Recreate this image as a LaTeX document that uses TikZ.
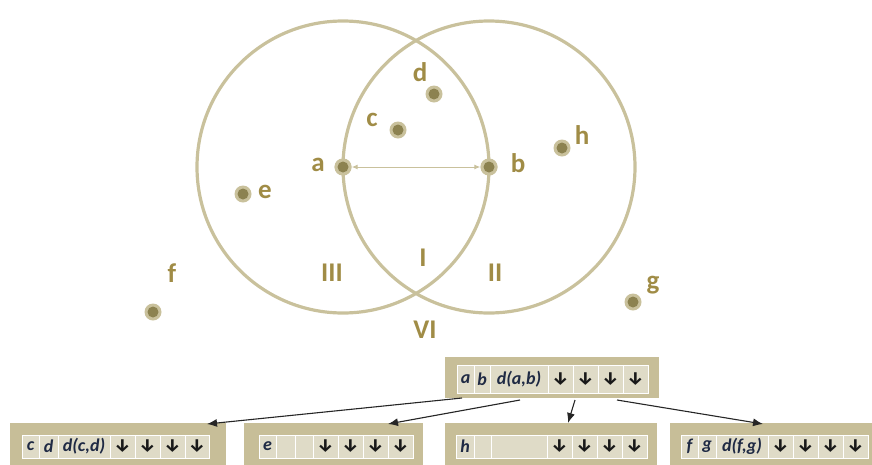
\documentclass[tikz,border=0pt]{standalone}
\usepackage{fontspec}
\setmainfont{Carlito}
\newfontfamily\arrowfont{Fira Sans}
\usetikzlibrary{arrows.meta}
\definecolor{ringc}{HTML}{C9C19C}
\definecolor{dotin}{HTML}{8C8250}
\definecolor{labc}{HTML}{A08C46}
\definecolor{boxc}{HTML}{C7BE98}
\definecolor{cellc}{HTML}{DFDBC7}
\definecolor{txtc}{HTML}{1F2A44}
\tikzset{
  ring/.style={draw=ringc, line width=3.2pt},
  dotn/.style={circle, fill=ringc, minimum size=17pt, inner sep=0pt,
     path picture={\fill[dotin] (path picture bounding box.center) circle[radius=5.5pt];}},
  lab/.style={text=labc, font=\fontsize{27}{27}\selectfont\bfseries, inner sep=0pt},
  outerbox/.style={fill=boxc, draw=none},
  cellbox/.style={fill=cellc, draw=white, line width=1pt, inner sep=0pt, text=txtc,
     font=\fontsize{18}{18}\selectfont\bfseries\itshape},
  conn/.style={draw=black!85, line width=1.1pt, -{Latex[length=10pt,width=8pt]}},
  dist/.style={draw=ringc, line width=1pt, {Latex[length=6pt,width=5pt]}-{Latex[length=6pt,width=5pt]}}
}
\newcommand\tcell[6]{\node[cellbox, minimum width={(#3-#2)*1pt}, minimum height={(#5-#4)*1pt}] (#1) at ({(#2+#3)/2},{(#4+#5)/2}) {#6};}
\newcommand\arr{{\arrowfont\fontsize{18}{18}\selectfont\bfseries\upshape\color{black!90}↓}}
\begin{document}
\begin{tikzpicture}[x=1pt,y=-1pt]
\useasboundingbox (0,0) rectangle (872,464);
\clip (0,0) rectangle (872,464);
% points
\node[dotn] (a) at (343,167) {};
\node[dotn] (b) at (489,167) {};
\node[dotn] (c) at (398,130) {};
\node[dotn] (d) at (434,94) {};
\node[dotn] (e) at (243,194) {};
\node[dotn] (h) at (562,148) {};
\node[dotn] (f) at (153,312) {};
\node[dotn] (g) at (633,302) {};
% circles
\draw[ring] (a.center) circle[radius=146];
\draw[ring] (b.center) circle[radius=146];
\node[dotn] at (a) {};
\node[dotn] at (b) {};
\draw[dist] (a) -- (b);
% point labels
\node[lab] (la) at (318,165) {a};
\node[lab] (lb) at (518,163) {b};
\node[lab] (lc) at (372,120) {c};
\node[lab] (ld) at (420,72) {d};
\node[lab] (le) at (265,192) {e};
\node[lab] (lh) at (582,135) {h};
\node[lab] (lf) at (172,273) {f};
\node[lab] (lg) at (653,285) {g};
% region labels
\node[lab] (r3) at (332,273) {III};
\node[lab] (r1) at (423,258) {I};
\node[lab] (r2) at (495,273) {II};
\node[lab] (r6) at (425,330) {VI};
% top box
\node[outerbox, minimum width=214pt, minimum height=41pt, inner sep=0pt] (tb) at (552,377.5) {};
\tcell{t1}{457}{474}{365}{393}{a}
\tcell{t2}{474}{490}{365}{393}{b}
\tcell{t3}{490}{548}{365}{393}{d(a,b)}
\tcell{t4}{548}{573}{365}{393}{\arr}
\tcell{t5}{573}{598}{365}{393}{\arr}
\tcell{t6}{598}{623}{365}{393}{\arr}
\tcell{t7}{623}{648}{365}{393}{\arr}
% bottom boxes
\node[outerbox, minimum width=216pt, minimum height=46pt, inner sep=0pt] (bb1) at (118,446) {};
\tcell{p1}{22}{39}{435}{458}{c}
\tcell{p2}{39}{58}{435}{458}{d}
\tcell{p3}{58}{110}{435}{458}{d(c,d)}
\tcell{p4}{110}{135}{435}{458}{\arr}
\tcell{p5}{135}{160}{435}{458}{\arr}
\tcell{p6}{160}{185}{435}{458}{\arr}
\tcell{p7}{185}{209}{435}{458}{\arr}
\node[outerbox, minimum width=179pt, minimum height=46pt, inner sep=0pt] (bb2) at (333.5,446) {};
\tcell{q1}{259}{276}{435}{458}{e}
\tcell{q2}{276}{295}{435}{458}{}
\tcell{q3}{295}{313}{435}{458}{}
\tcell{q4}{313}{338}{435}{458}{\arr}
\tcell{q5}{338}{363}{435}{458}{\arr}
\tcell{q6}{363}{388}{435}{458}{\arr}
\tcell{q7}{388}{413}{435}{458}{\arr}
\node[outerbox, minimum width=212pt, minimum height=46pt, inner sep=0pt] (bb3) at (551,446) {};
\tcell{u1}{456}{474}{435}{458}{h}
\tcell{u2}{474}{491}{435}{458}{}
\tcell{u3}{491}{547}{435}{458}{}
\tcell{u4}{547}{572}{435}{458}{\arr}
\tcell{u5}{572}{597}{435}{458}{\arr}
\tcell{u6}{597}{622}{435}{458}{\arr}
\tcell{u7}{622}{647}{435}{458}{\arr}
\node[outerbox, minimum width=206pt, minimum height=46pt, inner sep=0pt] (bb4) at (773,446) {};
\tcell{v1}{681}{698}{435}{458}{f}
\tcell{v2}{698}{716}{435}{458}{g}
\tcell{v3}{716}{768}{435}{458}{d(f,g)}
\tcell{v4}{768}{793}{435}{458}{\arr}
\tcell{v5}{793}{818}{435}{458}{\arr}
\tcell{v6}{818}{843}{435}{458}{\arr}
\tcell{v7}{843}{868}{435}{458}{\arr}
% connectors
\coordinate (s1) at (462,398);
\coordinate (s2) at (520,400);
\coordinate (s3) at (575,400);
\coordinate (s4) at (617,400);
\coordinate (e1) at (207,424);
\coordinate (e2) at (388,424);
\coordinate (e3) at (568,423);
\coordinate (e4) at (763,424);
\draw[conn] (s1) -- (e1);
\draw[conn] (s2) -- (e2);
\draw[conn] (s3) -- (e3);
\draw[conn] (s4) -- (e4);
\end{tikzpicture}
\end{document}
